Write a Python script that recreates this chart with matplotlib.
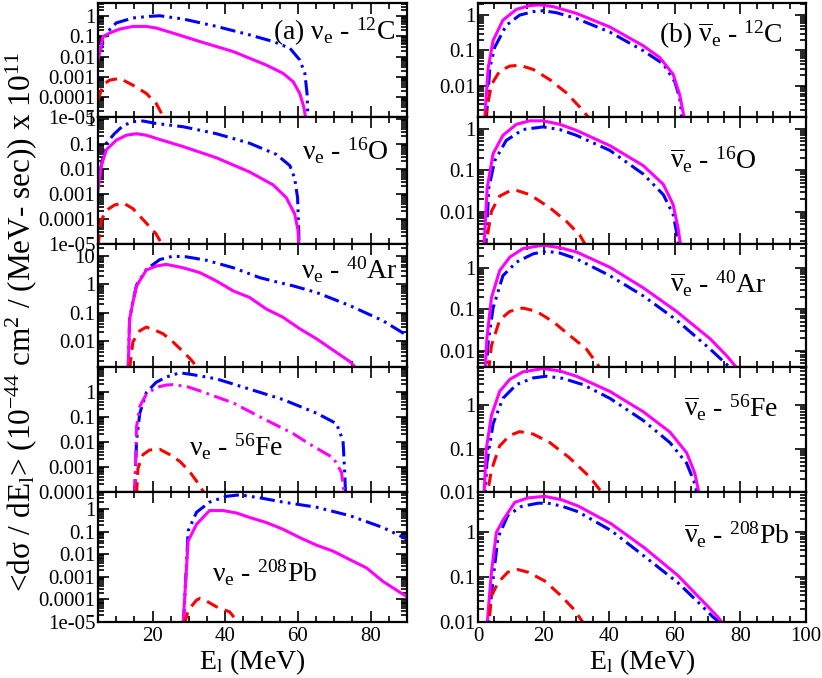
import matplotlib
matplotlib.use("Agg")
import matplotlib.pyplot as plt
import matplotlib.ticker as mticker

plt.rcParams.update({
    "font.family": "serif",
    "font.serif": ["Liberation Serif", "DejaVu Serif"],
    "mathtext.fontset": "custom",
    "mathtext.rm": "Liberation Serif",
    "mathtext.it": "Liberation Serif:italic",
    "mathtext.bf": "Liberation Serif:bold",
})

# ---- data ----
# (a) nu_e on 12C
a_c12_E_solid = [5, 6.4, 8.2, 11, 14.6, 18.3, 21, 25.6, 33, 42.2, 51.3, 55.9, 58.7, 60.5, 61.6, 62.3]
a_c12_y_solid = [6.8e-3, 0.1, 0.148, 0.234, 0.316, 0.316, 0.263, 0.148, 0.056, 0.0178, 3.8e-3, 1.48e-3, 5.6e-4, 1.48e-4, 3.2e-5, 6e-6]
a_c12_E_dd = [5, 7.3, 10, 14.6, 19.2, 22, 28.4, 37.6, 46.7, 53.2, 57.8, 60.5, 61.9, 62.5, 62.8]
a_c12_y_dd = [0.01, 0.148, 0.47, 0.83, 1.0, 1.07, 0.74, 0.316, 0.12, 0.056, 0.026, 6.8e-3, 1.48e-3, 1.48e-4, 6e-6]
a_c12_E_dash = [5, 6.4, 8.2, 11, 14.6, 18.3, 21, 23.3]
a_c12_y_dash = [6.8e-5, 4e-4, 6.8e-4, 8.3e-4, 3.8e-4, 1.48e-4, 4.7e-5, 8e-6]

# nu_e on 16O
a_o16_E_solid = [5, 5.9, 7.3, 10, 12.8, 15.6, 18.3, 22, 28.4, 37.6, 46.7, 53.2, 56.8, 59.1, 60, 60.3]
a_o16_y_solid = [1.3e-3, 0.0135, 0.059, 0.141, 0.224, 0.257, 0.224, 0.151, 0.079, 0.028, 7.6e-3, 2.3e-3, 7.1e-4, 1.6e-4, 3.7e-5, 8e-6]
a_o16_E_dd = [5.5, 7.3, 9.5, 11.9, 14.6, 17.4, 21, 28.4, 37.6, 46.7, 54.1, 57.8, 59.1, 59.9, 60.2, 60.3]
a_o16_y_dd = [7.6e-3, 0.107, 0.257, 0.54, 0.78, 0.83, 0.66, 0.49, 0.257, 0.107, 0.038, 0.0135, 4.2e-3, 7.1e-4, 3.8e-5, 8e-6]
a_o16_E_dash = [5, 5.9, 7.3, 9.5, 11.9, 14.6, 18.3, 21, 22.9]
a_o16_y_dash = [8e-6, 9e-5, 2.2e-4, 3.6e-4, 4.4e-4, 2.6e-4, 6.8e-5, 2.5e-5, 8e-6]

# nu_e on 40Ar
a_ar40_E_solid = [13.3, 13.7, 14.6, 15.6, 18.3, 21, 23.8, 28.4, 33, 37.6, 42.2, 46.7, 51.3, 55.9, 60.5, 65.1, 69.7, 74.3, 75.6, 77]
a_ar40_y_solid = [1e-3, 0.06, 0.234, 0.89, 3.24, 4.47, 5.13, 3.89, 2.63, 1.32, 0.59, 0.347, 0.135, 0.069, 0.027, 0.012, 4.7e-3, 1.86e-3, 1.23e-3, 8e-4]
a_ar40_E_dd = [13.3, 13.7, 14.6, 15.6, 18.3, 22, 25.6, 29.3, 34.8, 42.2, 49.5, 54.1, 58.7, 65.1, 74.3, 83.4, 89.9]
a_ar40_y_dd = [1e-3, 0.06, 0.25, 0.95, 3.4, 7.6, 10, 9.5, 7.2, 3.9, 1.74, 1.23, 0.89, 0.52, 0.178, 0.052, 0.016]
a_ar40_E_dash = [13.7, 14.6, 16.5, 18.3, 21, 22.9, 25.6, 28.4, 30.7, 32.1, 33]
a_ar40_y_dash = [1e-3, 9.3e-3, 0.023, 0.031, 0.023, 0.018, 9.3e-3, 4.2e-3, 2.1e-3, 1.23e-3, 8e-4]

# nu_e on 56Fe (the magenta curve is dash-dot here)
a_fe56_E_dd = [15.1, 15.6, 16.5, 18.3, 21, 23.8, 27.5, 31.1, 37.6, 46.7, 55.9, 65.1, 70.6, 72.4, 72.9, 73.1]
a_fe56_y_dd = [8e-5, 0.011, 0.138, 0.91, 2.34, 3.8, 5.6, 4.7, 3.2, 1.25, 0.48, 0.138, 0.053, 0.011, 4.7e-4, 8e-5]
a_fe56_E_dot = [15.1, 15.6, 16.5, 18.3, 21, 23.8, 25.6, 29.3, 33, 42.2, 51.3, 58.7, 63.3, 69.7, 72, 72.7]
a_fe56_y_dot = [8e-5, 0.039, 0.257, 0.78, 1.46, 1.82, 1.88, 1.6, 1.07, 0.35, 0.073, 0.021, 7.9e-3, 2.3e-3, 6e-4, 8e-5]
a_fe56_E_dash = [15.6, 16, 17.4, 19.2, 22, 24.7, 27.5, 30.2, 33, 34.4]
a_fe56_y_dash = [8e-5, 8.9e-4, 3.1e-3, 4.7e-3, 5e-3, 3.1e-3, 1.66e-3, 6.5e-4, 1.8e-4, 8e-5]

# nu_e on 208Pb
a_pb208_E_solid = [28.4, 29.8, 32.1, 35.7, 39.4, 43.1, 46.7, 51.3, 55.9, 60.5, 65.1, 69.7, 74.3, 78.9, 83.4, 90]
a_pb208_y_solid = [8e-6, 0.038, 0.21, 0.85, 0.85, 0.66, 0.42, 0.25, 0.126, 0.054, 0.025, 0.0135, 5.7e-3, 2.45e-3, 6.2e-4, 1.3e-4]
a_pb208_E_dd = [28.5, 29.8, 32.1, 35.7, 40.3, 44, 49.5, 55.9, 65.1, 74.3, 83.4, 90]
a_pb208_y_dd = [8e-6, 0.107, 0.71, 2.0, 3.6, 4.2, 3.1, 2.0, 1.19, 0.5, 0.15, 0.046]
a_pb208_E_dash = [28.8, 29.8, 32.1, 33, 34.8, 37.6, 41.2, 43.5, 44]
a_pb208_y_dash = [8e-6, 3.3e-5, 9.3e-5, 1.1e-4, 8.5e-5, 4.7e-5, 2.8e-5, 1e-5, 8e-6]

# (b) anti-nu_e on 12C
b_c12_E_solid = [2.0, 3.1, 4.6, 7.6, 11.7, 15.8, 18.8, 22.9, 30, 40.2, 50.4, 55.4, 59.5, 61.5, 62.8, 63.3]
b_c12_y_solid = [1e-3, 0.032, 0.19, 0.72, 1.45, 1.86, 1.95, 1.74, 1.12, 0.46, 0.135, 0.063, 0.021, 5.5e-3, 1.3e-3, 1e-3]
b_c12_E_dd = [2.5, 3.6, 5.1, 8.6, 12.7, 16.8, 19.8, 23.9, 30, 40.2, 50.4, 56.5, 60, 61.5, 62.3]
b_c12_y_dd = [1e-3, 0.032, 0.123, 0.51, 1.0, 1.25, 1.33, 1.17, 0.8, 0.33, 0.098, 0.041, 0.013, 4.4e-3, 1e-3]
b_c12_E_dash = [2.0, 4.1, 6.6, 9.7, 12.7, 16.8, 21.9, 27, 31, 33.6, 34.5]
b_c12_y_dash = [1e-3, 0.0107, 0.026, 0.036, 0.038, 0.029, 0.0148, 6.2e-3, 2.5e-3, 1.3e-3, 1e-3]

# anti-nu_e on 16O
b_o16_E_solid = [1.7, 2.8, 4.6, 7.6, 11.7, 15.8, 19.8, 24.9, 30, 40.2, 50.4, 56.5, 59.5, 61, 61.7, 62.2]
b_o16_y_solid = [1e-3, 0.038, 0.25, 0.69, 1.27, 1.54, 1.54, 1.27, 0.91, 0.39, 0.129, 0.046, 0.015, 4.1e-3, 1.7e-3, 1e-3]
b_o16_E_dd = [2.3, 3.3, 5.1, 8.6, 13.7, 19.8, 24.9, 30, 40.2, 50.4, 56.5, 59.5, 60.7, 61.5]
b_o16_y_dd = [1e-3, 0.038, 0.17, 0.52, 0.95, 1.1, 0.95, 0.69, 0.3, 0.081, 0.026, 8.7e-3, 2.8e-3, 1e-3]
b_o16_E_dash = [2.0, 4.1, 6.6, 9.7, 11.7, 15.8, 21.9, 27, 31, 32.6, 34]
b_o16_y_dash = [1e-3, 0.0104, 0.024, 0.032, 0.033, 0.026, 0.0126, 5.9e-3, 2.8e-3, 1.7e-3, 1e-3]

# anti-nu_e on 40Ar
b_ar40_E_solid = [1.8, 2.7, 4.1, 6.6, 9.7, 13.7, 19.8, 24.9, 30, 40.2, 50.4, 60.5, 70.7, 75.8, 78.8, 80]
b_ar40_y_solid = [1e-3, 0.0195, 0.19, 0.86, 1.83, 2.95, 3.55, 3.1, 2.44, 1.04, 0.33, 0.089, 0.0195, 7.5e-3, 3.9e-3, 2.5e-3]
b_ar40_E_dd = [2.1, 3.1, 4.6, 7.6, 11.7, 16.8, 20.8, 24.9, 30, 40.2, 50.4, 60.5, 70.7, 76.8, 78]
b_ar40_y_dd = [1e-3, 0.016, 0.107, 0.65, 1.38, 2.2, 2.53, 2.3, 1.67, 0.65, 0.21, 0.055, 0.011, 3.9e-3, 2.5e-3]
b_ar40_E_dash = [2.5, 4.1, 6.6, 9.7, 13.7, 17.8, 22.9, 27.9, 33, 37.1, 38]
b_ar40_y_dash = [1e-3, 0.0132, 0.055, 0.089, 0.107, 0.089, 0.05, 0.0234, 0.011, 3.9e-3, 2.5e-3]

# anti-nu_e on 56Fe
b_fe56_E_solid = [1.7, 2.5, 4.1, 6.6, 9.7, 13.7, 19.8, 24.9, 30, 40.2, 50.4, 58.5, 63.6, 66.1, 67.4, 68]
b_fe56_y_solid = [5e-3, 0.095, 0.58, 2.06, 3.9, 5.8, 6.9, 6.1, 4.6, 2.06, 0.7, 0.24, 0.08, 0.027, 9.1e-3, 5e-3]
b_fe56_E_dd = [2.0, 2.7, 4.6, 7.6, 11.7, 16.8, 20.8, 25.9, 32, 40.2, 50.4, 58.5, 63.6, 66.1, 66.8, 67.3]
b_fe56_y_dd = [5e-3, 0.046, 0.37, 1.43, 2.95, 4.2, 4.6, 4.1, 2.95, 1.43, 0.44, 0.137, 0.046, 0.0157, 9.1e-3, 5e-3]
b_fe56_E_dash = [2.3, 4.1, 6.6, 9.7, 12.7, 16.8, 21.9, 27.9, 34, 38.1, 39]
b_fe56_y_dash = [5e-3, 0.032, 0.115, 0.2, 0.245, 0.215, 0.137, 0.061, 0.0224, 9.1e-3, 5e-3]

# anti-nu_e on 208Pb
b_pb208_E_solid = [2.5, 4.1, 5.6, 7.6, 11.2, 15.2, 20.3, 25.4, 30.5, 40.6, 50.8, 60.9, 68, 73.1, 74.3, 75]
b_pb208_y_solid = [5e-3, 0.13, 1.0, 1.86, 4.7, 5.9, 6.4, 5.4, 3.9, 1.56, 0.45, 0.11, 0.032, 0.013, 0.01, 6e-3]
b_pb208_E_dd = [2.8, 4.6, 6.1, 9.1, 13.2, 18.3, 21.3, 25.4, 30.5, 40.6, 50.8, 60.9, 68, 71.6, 73.6, 74.2]
b_pb208_y_dd = [5e-3, 0.091, 0.77, 2.4, 3.8, 4.5, 4.5, 3.9, 2.9, 1.1, 0.29, 0.076, 0.024, 0.013, 0.01, 6e-3]
b_pb208_E_dash = [3.0, 4.1, 6.1, 9.1, 12.2, 15.2, 20.3, 25.4, 29.4, 31.9, 33]
b_pb208_y_dash = [5e-3, 0.038, 0.076, 0.13, 0.148, 0.13, 0.083, 0.038, 0.0186, 0.01, 6e-3]

nu = r"$\mathrm{\nu}_\mathrm{e}$"
nubar = r"$\overline{\mathrm{\nu}}_\mathrm{e}$"
labels_a = ["(a) " + nu + r" - $^{12}$C", nu + r" - $^{16}$O", nu + r" - $^{40}$Ar",
            nu + r" - $^{56}$Fe", nu + r" - $^{208}$Pb"]
labels_b = ["(b) " + nubar + r" - $^{12}$C", nubar + r" - $^{16}$O", nubar + r" - $^{40}$Ar",
            nubar + r" - $^{56}$Fe", nubar + r" - $^{208}$Pb"]

ylims_a = [(1e-5, 4.6), (1e-5, 1.2), (1.2e-3, 27), (1e-4, 9.5), (1e-5, 5.6)]
ylims_b = [(1.3e-3, 2.2), (1.7e-3, 1.9), (4e-3, 3.8), (1e-2, 7.5), (1e-2, 8)]
label_pos_a = [(0.96, 0.75), (0.94, 0.73), (0.97, 0.79), (0.60, 0.36), (0.71, 0.38)]
label_pos_b = [(0.93, 0.72), (0.85, 0.66), (0.88, 0.68), (0.915, 0.67), (0.95, 0.67)]

# ---- styles ----
MAG = "#ff00ff"
BLUE = "#0000ff"
RED = "#ff0000"
LW = 2.2
ls_solid = "-"
ls_dd = (0, (5.0, 1.7, 0.9, 1.7, 0.9, 1.7))
ls_dash = (0, (4.0, 2.4))
ls_dot = (0, (5.0, 1.8, 0.9, 1.8))

fig = plt.figure(figsize=(8.22, 6.78), dpi=100)
W, H = 822.0, 678.0

rows_px = [3, 117, 244, 367, 492, 622]
col_a = (98, 407)
col_b = (478, 806)


def make_ax(col, i):
    top, bot = rows_px[i], rows_px[i + 1]
    return fig.add_axes([col[0] / W, 1 - bot / H, (col[1] - col[0]) / W, (bot - top) / H])


def fmt(v, pos):
    return "%g" % v


def style_ax(ax, xlim, xmajor, ylim, show_x):
    ax.set_yscale("log")
    ax.set_xlim(*xlim)
    ax.set_ylim(*ylim)
    ax.xaxis.set_major_locator(mticker.MultipleLocator(xmajor))
    ax.xaxis.set_minor_locator(mticker.MultipleLocator(5))
    ax.yaxis.set_major_locator(mticker.LogLocator(base=10, numticks=20))
    ax.yaxis.set_minor_locator(mticker.LogLocator(base=10, subs=range(2, 10), numticks=20))
    ax.yaxis.set_major_formatter(mticker.FuncFormatter(fmt))
    ax.yaxis.set_minor_formatter(mticker.NullFormatter())
    ax.tick_params(which="both", direction="in", top=True, right=True, labelsize=15, width=1.2)
    ax.tick_params(which="major", length=8)
    ax.tick_params(which="minor", length=4)
    ax.tick_params(axis="y", pad=2)
    if not show_x:
        ax.tick_params(axis="x", labelbottom=False)
    for s in ax.spines.values():
        s.set_linewidth(1.6)


a_sets = [
    [(a_c12_E_dd, a_c12_y_dd, BLUE, ls_dd), (a_c12_E_solid, a_c12_y_solid, MAG, ls_solid), (a_c12_E_dash, a_c12_y_dash, RED, ls_dash)],
    [(a_o16_E_dd, a_o16_y_dd, BLUE, ls_dd), (a_o16_E_solid, a_o16_y_solid, MAG, ls_solid), (a_o16_E_dash, a_o16_y_dash, RED, ls_dash)],
    [(a_ar40_E_dd, a_ar40_y_dd, BLUE, ls_dd), (a_ar40_E_solid, a_ar40_y_solid, MAG, ls_solid), (a_ar40_E_dash, a_ar40_y_dash, RED, ls_dash)],
    [(a_fe56_E_dd, a_fe56_y_dd, BLUE, ls_dd), (a_fe56_E_dot, a_fe56_y_dot, MAG, ls_dot), (a_fe56_E_dash, a_fe56_y_dash, RED, ls_dash)],
    [(a_pb208_E_dd, a_pb208_y_dd, BLUE, ls_dd), (a_pb208_E_solid, a_pb208_y_solid, MAG, ls_solid), (a_pb208_E_dash, a_pb208_y_dash, RED, ls_dash)],
]
b_sets = [
    [(b_c12_E_dd, b_c12_y_dd, BLUE, ls_dd), (b_c12_E_solid, b_c12_y_solid, MAG, ls_solid), (b_c12_E_dash, b_c12_y_dash, RED, ls_dash)],
    [(b_o16_E_dd, b_o16_y_dd, BLUE, ls_dd), (b_o16_E_solid, b_o16_y_solid, MAG, ls_solid), (b_o16_E_dash, b_o16_y_dash, RED, ls_dash)],
    [(b_ar40_E_dd, b_ar40_y_dd, BLUE, ls_dd), (b_ar40_E_solid, b_ar40_y_solid, MAG, ls_solid), (b_ar40_E_dash, b_ar40_y_dash, RED, ls_dash)],
    [(b_fe56_E_dd, b_fe56_y_dd, BLUE, ls_dd), (b_fe56_E_solid, b_fe56_y_solid, MAG, ls_solid), (b_fe56_E_dash, b_fe56_y_dash, RED, ls_dash)],
    [(b_pb208_E_dd, b_pb208_y_dd, BLUE, ls_dd), (b_pb208_E_solid, b_pb208_y_solid, MAG, ls_solid), (b_pb208_E_dash, b_pb208_y_dash, RED, ls_dash)],
]

for i in range(5):
    ax = make_ax(col_a, i)
    for E, y, c, ls in a_sets[i]:
        ax.plot(E, y, color=c, linestyle=ls, lw=LW)
    style_ax(ax, (5, 90), 20, ylims_a[i], i == 4)
    ax.text(*label_pos_a[i], labels_a[i], transform=ax.transAxes, ha="right", va="center", fontsize=20)
    if i == 4:
        ax.set_xlabel(r"E$_\mathrm{l}$ (MeV)", fontsize=20, labelpad=1)

    ax = make_ax(col_b, i)
    for E, y, c, ls in b_sets[i]:
        ax.plot(E, y, color=c, linestyle=ls, lw=LW)
    style_ax(ax, (0, 100), 20, ylims_b[i], i == 4)
    ax.text(*label_pos_b[i], labels_b[i], transform=ax.transAxes, ha="right", va="center", fontsize=20)
    if i == 4:
        ax.set_xlabel(r"E$_\mathrm{l}$ (MeV)", fontsize=20, labelpad=1)

fig.text(0.026, 0.525,
         r"<dσ / dE$_\mathrm{l}$> (10$^{-44}$ cm$^2$ / (MeV- sec)) x 10$^{11}$",
         rotation=90, ha="center", va="center", fontsize=22.5)

fig.savefig("out.png", dpi=100)
